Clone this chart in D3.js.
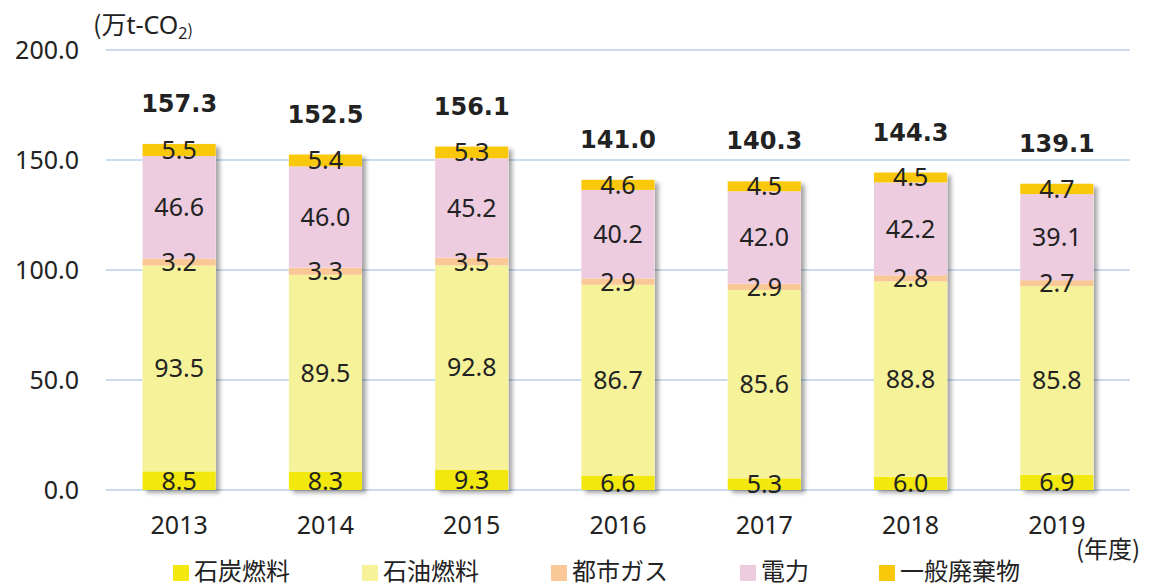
<!DOCTYPE html>
<html>
<head>
<meta charset="utf-8">
<script src="https://cdn.jsdelivr.net/npm/d3@7"></script>
<style>
  body { margin: 0; background: #fff; }
  text { fill: #222; }
</style>
</head>
<body>
<svg id="chart" width="1151" height="587" font-family="'Noto Sans', 'Noto Sans CJK JP', sans-serif"></svg>
<script>
// data
const years = ["2013", "2014", "2015", "2016", "2017", "2018", "2019"];
const coal = [8.5, 8.3, 9.3, 6.6, 5.3, 6.0, 6.9];
const oil = [93.5, 89.5, 92.8, 86.7, 85.6, 88.8, 85.8];
const gas = [3.2, 3.3, 3.5, 2.9, 2.9, 2.8, 2.7];
const power = [46.6, 46.0, 45.2, 40.2, 42.0, 42.2, 39.1];
const waste = [5.5, 5.4, 5.3, 4.6, 4.5, 4.5, 4.7];
const totals = [157.3, 152.5, 156.1, 141.0, 140.3, 144.3, 139.1];
const seriesNames = ["石炭燃料", "石油燃料", "都市ガス", "電力", "一般廃棄物"];
const yTicks = [0, 50, 100, 150, 200];

const colors = ["#f2e80e", "#f5f29a", "#f9c896", "#edcce0", "#fac80a"];
const keys = ["coal", "oil", "gas", "power", "waste"];
const table = years.map((y, i) => ({
  year: y, coal: coal[i], oil: oil[i], gas: gas[i], power: power[i], waste: waste[i], total: totals[i]
}));
const sum = d => d.coal + d.oil + d.gas + d.power + d.waste;

const svg = d3.select("#chart");
const x = d3.scaleBand().domain(years).range([106, 1130]).paddingInner(0.5).paddingOuter(0.25);
const y = d3.scaleLinear().domain([0, 200]).range([490, 50]);

// shadow for bars
const defs = svg.append("defs");
const f = defs.append("filter").attr("id", "shadow").attr("x", "-20%").attr("y", "-20%").attr("width", "150%").attr("height", "150%");
f.append("feDropShadow").attr("dx", 4).attr("dy", 3).attr("stdDeviation", 2)
  .attr("flood-color", "#000").attr("flood-opacity", 0.35);

// gridlines
svg.append("g").selectAll("line").data(yTicks).join("line")
  .attr("x1", 106).attr("x2", 1130)
  .attr("y1", d => y(d)).attr("y2", d => y(d))
  .attr("stroke", "#c9dcee").attr("stroke-width", 2);

// y tick labels
svg.append("g").selectAll("text").data(yTicks).join("text")
  .attr("x", 79).attr("y", d => y(d)).attr("dy", "0.36em")
  .attr("text-anchor", "end").attr("font-size", 25)
  .text(d => d.toFixed(1));

// unit label
const unit = svg.append("text").attr("x", 93).attr("y", 34).attr("font-size", 25);
unit.append("tspan").style("font-family", "'Noto Sans CJK JP', sans-serif").text("(万");
unit.append("tspan").text("t-CO");
unit.append("tspan").attr("font-size", 16).attr("dy", 5).text("2");
unit.append("tspan").attr("font-size", 16).attr("dy", -3).style("font-family", "'Noto Sans CJK JP', sans-serif").text(")");

const stack = d3.stack().keys(keys)(table);

// bars with shadow
const bars = svg.append("g");
bars.selectAll("rect.shadowbox").data(table).join("rect")
  .attr("x", d => x(d.year)).attr("width", x.bandwidth())
  .attr("y", d => y(sum(d)))
  .attr("height", d => y(0) - y(sum(d)))
  .attr("fill", "#fff").attr("filter", "url(#shadow)");

stack.forEach((layer, li) => {
  bars.append("g").selectAll("rect").data(layer).join("rect")
    .attr("x", d => x(d.data.year)).attr("width", x.bandwidth())
    .attr("y", d => y(d[1])).attr("height", d => y(d[0]) - y(d[1]))
    .attr("fill", colors[li]);
});

// segment labels
stack.forEach((layer) => {
  svg.append("g").selectAll("text").data(layer).join("text")
    .attr("x", d => x(d.data.year) + x.bandwidth() / 2)
    .attr("y", d => y((d[0] + d[1]) / 2)).attr("dy", "0.36em")
    .attr("text-anchor", "middle").attr("font-size", 25)
    .text(d => (d[1] - d[0]).toFixed(1));
});

// totals
svg.append("g").selectAll("text").data(table).join("text")
  .attr("x", d => x(d.year) + x.bandwidth() / 2)
  .attr("y", d => y(sum(d)) - 32)
  .attr("text-anchor", "middle").attr("font-size", 24).attr("font-weight", "bold")
  .style("font-family", "'DejaVu Sans', sans-serif")
  .text(d => d.total.toFixed(1));

// x labels
svg.append("g").selectAll("text").data(years).join("text")
  .attr("x", d => x(d) + x.bandwidth() / 2).attr("y", 534)
  .attr("text-anchor", "middle").attr("font-size", 25)
  .text(d => d);

svg.append("text").attr("x", 1076).attr("y", 558).attr("font-size", 24)
  .style("font-family", "'Noto Sans CJK JP', sans-serif").text("(年度)");

// legend
const legendX = [173, 362, 551, 740, 879];
const lg = svg.append("g").selectAll("g").data(seriesNames).join("g")
  .attr("transform", (d, i) => `translate(${legendX[i]},0)`);
lg.append("rect").attr("x", 0).attr("y", 565).attr("width", 16).attr("height", 16)
  .attr("fill", (d, i) => colors[i]);
lg.append("text").attr("x", 21).attr("y", 580).attr("font-size", 24)
  .style("font-family", "'Noto Sans CJK JP', sans-serif").text(d => d);
</script>
</body>
</html>
